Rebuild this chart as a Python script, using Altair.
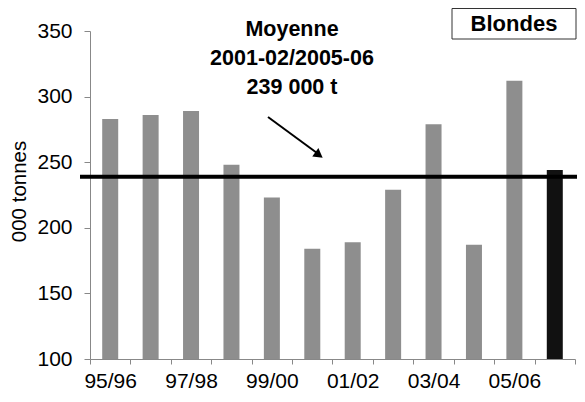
import json
import altair as alt
import pandas as pd

seasons = ["95/96", "96/97", "97/98", "98/99", "99/00", "00/01",
           "01/02", "02/03", "03/04", "04/05", "05/06", "06/07"]
tonnes = [283, 286, 289, 248, 223, 184, 189, 229, 279, 187, 312, 244]
kind = ["past", "past", "past", "past", "past", "past",
        "past", "past", "past", "past", "past", "current"]
shown_labels = ["95/96", "97/98", "99/00", "01/02", "03/04", "05/06"]
y_ticks = [100, 150, 200, 250, 300, 350]
mean_value = [239]
annotation = ["Moyenne", "2001-02/2005-06", "239 000 t"]
panel_label = "Blondes"

FONT = "Liberation Sans"

df = pd.DataFrame({"season": seasons, "tonnes": tonnes, "kind": kind})
mean_df = pd.DataFrame({"tonnes": mean_value})
one = pd.DataFrame({"a": [0]})

label_expr = "indexof(" + json.dumps(shown_labels) + ", datum.value) >= 0 ? datum.label : ''"

x_enc = alt.X(
    "season:N", sort=seasons, title=None,
    scale=alt.Scale(paddingInner=0, paddingOuter=0),
    axis=alt.Axis(labelExpr=label_expr, labelAngle=0, tickBand="extent",
                  labelOverlap=False, labelFont=FONT, labelFontSize=21,
                  labelColor="black", labelPadding=6, tickSize=5,
                  domainColor="#888", tickColor="#888", grid=False),
)
y_scale = alt.Scale(domain=[100, 350], zero=False, nice=False)
y_axis = alt.Axis(values=y_ticks, title="000 tonnes", titleFont=FONT,
                  titleFontSize=20.5, titleFontWeight="normal", titleColor="black",
                  titleAngle=-90, titleX=-71, titleY=160, titleAlign="center",
                  titleBaseline="middle", labelFont=FONT, labelFontSize=21,
                  labelColor="black", labelPadding=12, tickSize=6,
                  domainColor="#888", tickColor="#888", grid=False)

bars = alt.Chart(df).mark_bar(size=16).encode(
    x=x_enc,
    y=alt.Y("tonnes:Q", scale=y_scale, axis=y_axis),
    y2=alt.datum(100),
    color=alt.Color("kind:N", scale=alt.Scale(domain=["past", "current"],
                                              range=["#8e8e8e", "#111111"]),
                    legend=None),
)

mean_rule = alt.Chart(mean_df).mark_rule(strokeWidth=4, color="black").encode(
    y=alt.Y("tonnes:Q", scale=y_scale, axis=y_axis),
    x=alt.value(-10), x2=alt.value(488),
)

arrow_line = alt.Chart(one).mark_rule(strokeWidth=2, color="black").encode(
    x=alt.value(178), y=alt.value(86), x2=alt.value(227), y2=alt.value(122),
)
arrow_head = alt.Chart(one).mark_point(shape="triangle-right", filled=True,
                                       size=110, angle=36, color="black",
                                       opacity=1).encode(
    x=alt.value(229), y=alt.value(124),
)

note = alt.Chart(one).mark_text(font=FONT, fontSize=21.5, fontWeight="bold",
                                lineHeight=29, align="center", baseline="middle",
                                color="black").encode(
    x=alt.value(202), y=alt.value(-1), text=alt.value(annotation),
)

box = alt.Chart(one).mark_rect(fill="white", stroke="#333", strokeWidth=1).encode(
    x=alt.value(362), x2=alt.value(486), y=alt.value(-22.5), y2=alt.value(8),
)
box_text = alt.Chart(one).mark_text(font=FONT, fontSize=22, fontWeight="bold",
                                    align="center", baseline="middle",
                                    color="black").encode(
    x=alt.value(424), y=alt.value(-7), text=alt.value(panel_label),
)

chart = alt.layer(bars, mean_rule, arrow_line, arrow_head, note, box, box_text).properties(
    width=485, height=328,
    autosize=alt.AutoSizeParams(type="none"),
    padding={"left": 82, "top": 23, "right": 2, "bottom": 35},
).configure_view(stroke=None)

chart.save("out.html", embed_options={"renderer": "svg", "actions": False})
